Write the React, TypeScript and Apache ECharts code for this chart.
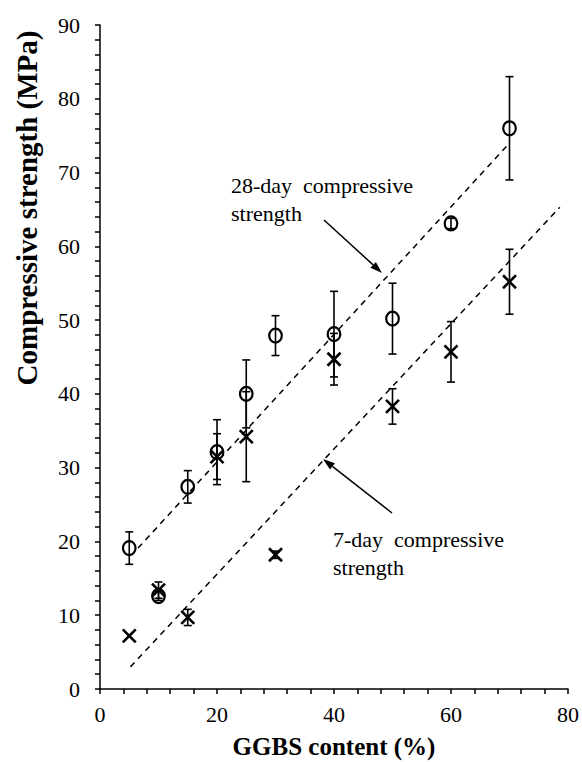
import React, { useEffect, useRef } from "react";
import * as echarts from "echarts";

// GGBS content (%)
const ggbs = [5, 10, 15, 20, 25, 30, 40, 50, 60, 70];
// 28-day compressive strength (MPa) and error (±)
const day28 = [19.1, 12.6, 27.4, 32.1, 40.0, 47.9, 48.1, 50.2, 63.1, 76.0];
const day28Err = [2.2, 0.6, 2.2, 4.4, 4.6, 2.7, 5.8, 4.8, 0.7, 7.0];
// 7-day compressive strength (MPa) and error (±)
const day7 = [7.2, 13.4, 9.7, 31.5, 34.2, 18.2, 44.7, 38.3, 45.7, 55.2];
const day7Err = [0.0, 1.1, 1.1, 3.1, 6.1, 0.5, 3.5, 2.4, 4.1, 4.4];
// Linear trend lines [x, y]
const trend28 = [[6.5, 19.1], [70, 74.0]];
const trend7 = [[5.2, 3.0], [78.6, 65.3]];

const xTicks = { min: 0, max: 80, interval: 20 };
const yTicks = { min: 0, max: 90, interval: 10 };

const FONT = "'Liberation Serif', 'Times New Roman', serif";

function errData(ys: number[], es: number[]) {
  return ggbs.map((x, i) => [x, ys[i], ys[i] - es[i], ys[i] + es[i]]);
}

export default function App() {
  const ref = useRef<HTMLDivElement>(null);
  useEffect(() => {
    if (!ref.current) return;
    const chart = echarts.init(ref.current, undefined, { renderer: "svg" });

    const errRender = (params: any, api: any) => {
      const x = api.value(0);
      const lo = api.coord([x, api.value(2)]);
      const hi = api.coord([x, api.value(3)]);
      if (Math.abs(hi[1] - lo[1]) < 1) return { type: "group", children: [] };
      const cap = 4;
      const st = { stroke: "#000", lineWidth: 1.6 };
      return {
        type: "group",
        children: [
          { type: "line", shape: { x1: lo[0], y1: lo[1], x2: hi[0], y2: hi[1] }, style: st },
          { type: "line", shape: { x1: lo[0] - cap, y1: lo[1], x2: lo[0] + cap, y2: lo[1] }, style: st },
          { type: "line", shape: { x1: hi[0] - cap, y1: hi[1], x2: hi[0] + cap, y2: hi[1] }, style: st },
        ],
      };
    };

    const circleRender = (params: any, api: any) => {
      const p = api.coord([api.value(0), api.value(1)]);
      return {
        type: "ellipse",
        shape: { cx: p[0], cy: p[1], rx: 6.3, ry: 7 },
        style: { fill: "none", stroke: "#000", lineWidth: 2.2 },
      };
    };

    const crossRender = (params: any, api: any) => {
      const p = api.coord([api.value(0), api.value(1)]);
      const s = 6.5;
      const st = { stroke: "#000", lineWidth: 2.6 };
      return {
        type: "group",
        children: [
          { type: "line", shape: { x1: p[0] - s, y1: p[1] - s, x2: p[0] + s, y2: p[1] + s }, style: st },
          { type: "line", shape: { x1: p[0] - s, y1: p[1] + s, x2: p[0] + s, y2: p[1] - s }, style: st },
        ],
      };
    };

    const arrow = (x1: number, y1: number, x2: number, y2: number) => {
      const ang = Math.atan2(y2 - y1, x2 - x1);
      const L = 12, W = 4;
      const bx = x2 - L * Math.cos(ang), by = y2 - L * Math.sin(ang);
      const nx = -Math.sin(ang), ny = Math.cos(ang);
      return [
        { type: "line", shape: { x1, y1, x2: bx, y2: by }, style: { stroke: "#000", lineWidth: 1.5 } },
        {
          type: "polygon",
          shape: { points: [[x2, y2], [bx + nx * W, by + ny * W], [bx - nx * W, by - ny * W]] },
          style: { fill: "#000" },
        },
      ];
    };

    const axisCommon = {
      axisLine: { show: true, lineStyle: { color: "#000", width: 1.5 } },
      axisTick: { show: true, length: 5, lineStyle: { color: "#000", width: 1.5 } },
      minorTick: { show: true, splitNumber: 5, length: 5, lineStyle: { color: "#000", width: 1.5 } },
      splitLine: { show: false },
      minorSplitLine: { show: false },
      axisLabel: { color: "#000", fontFamily: FONT, fontSize: 22 },
      nameTextStyle: { color: "#000", fontFamily: FONT, fontSize: 25, fontWeight: "bold" },
    };

    chart.setOption({
      animation: false,
      backgroundColor: "#fff",
      grid: { left: 100, right: 14, top: 25, bottom: 73, outerBoundsMode: "none" },
      xAxis: {
        type: "value",
        ...xTicks,
        ...axisCommon,
        axisLabel: { ...axisCommon.axisLabel, margin: 14 },
        name: "GGBS content (%)",
        nameLocation: "middle",
        nameGap: 45,
      },
      yAxis: {
        type: "value",
        ...yTicks,
        ...axisCommon,
        axisLabel: { ...axisCommon.axisLabel, margin: 20 },
      },
      series: [
        {
          type: "line",
          data: trend28,
          symbol: "none",
          lineStyle: { color: "#000", width: 1.5, type: [6, 5] },
          z: 1,
        },
        {
          type: "line",
          data: trend7,
          symbol: "none",
          lineStyle: { color: "#000", width: 1.5, type: [6, 5] },
          z: 1,
        },
        { type: "custom", data: errData(day28, day28Err), renderItem: errRender, z: 2 },
        { type: "custom", data: errData(day7, day7Err), renderItem: errRender, z: 2 },
        { type: "custom", data: ggbs.map((x, i) => [x, day28[i]]), renderItem: circleRender, z: 3 },
        { type: "custom", data: ggbs.map((x, i) => [x, day7[i]]), renderItem: crossRender, z: 3 },
      ],
      graphic: [
        {
          type: "text",
          x: 27,
          y: 208,
          rotation: Math.PI / 2,
          style: {
            text: "Compressive strength (MPa)",
            font: `bold 29px ${FONT}`,
            fill: "#000",
            align: "center",
            verticalAlign: "middle",
          },
        },
        {
          type: "text",
          left: 231,
          top: 174,
          style: { text: "28-day  compressive", font: `22px ${FONT}`, fill: "#000" },
        },
        {
          type: "text",
          left: 231,
          top: 202,
          style: { text: "strength", font: `22px ${FONT}`, fill: "#000" },
        },
        ...arrow(324, 220, 382, 273),
        {
          type: "text",
          left: 333,
          top: 528,
          style: { text: "7-day  compressive", font: `22px ${FONT}`, fill: "#000" },
        },
        {
          type: "text",
          left: 333,
          top: 556,
          style: { text: "strength", font: `22px ${FONT}`, fill: "#000" },
        },
        ...arrow(392, 513, 323, 459),
      ],
    });
    return () => chart.dispose();
  }, []);
  return (
    <div
      ref={ref}
      style={{ position: "fixed", left: 0, top: 0, width: 582, height: 762, background: "#fff" }}
    />
  );
}
